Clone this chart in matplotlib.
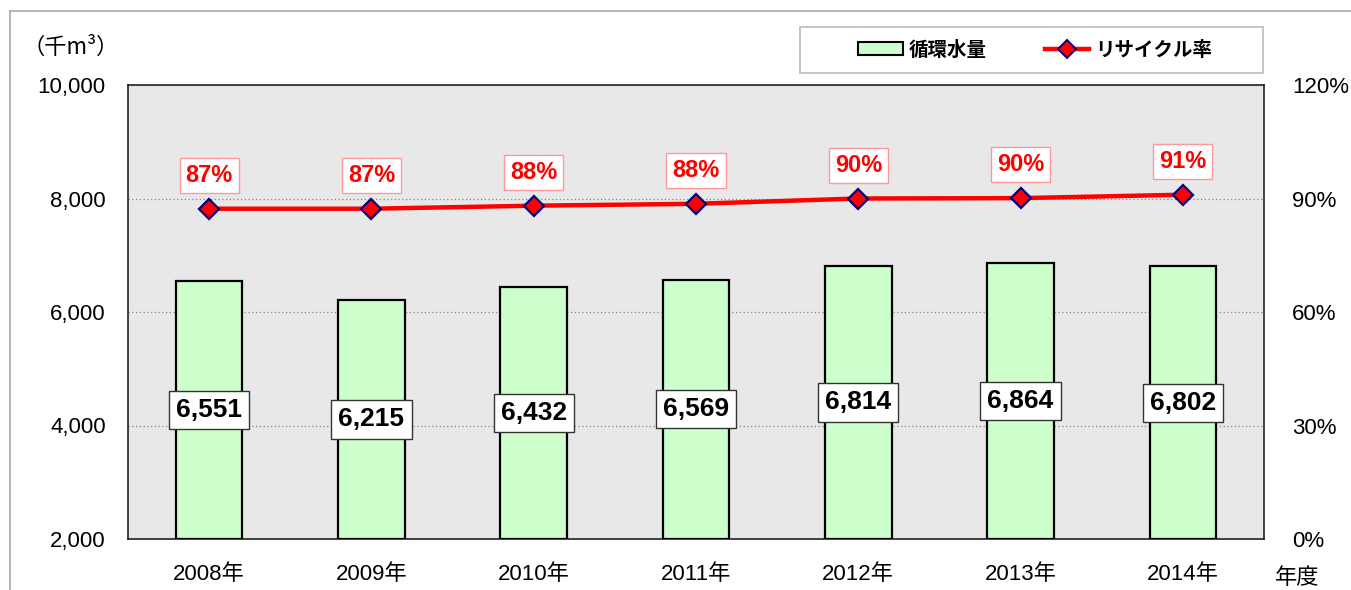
import matplotlib
matplotlib.use("Agg")
import matplotlib.pyplot as plt
from matplotlib.patches import Rectangle, Patch
from matplotlib.lines import Line2D
from matplotlib import font_manager

years = ["2008年", "2009年", "2010年", "2011年", "2012年", "2013年", "2014年"]
water = [6551, 6215, 6432, 6569, 6814, 6864, 6802]
rate = [87.3, 87.3, 88.1, 88.6, 90.0, 90.1, 91.0]
rate_labels = ["87%", "87%", "88%", "88%", "90%", "90%", "91%"]
left_ticks = [2000, 4000, 6000, 8000, 10000]
right_ticks = [0, 30, 60, 90, 120]

FAM = ["Liberation Sans", "Noto Sans CJK JP", "DejaVu Sans"]
JFAM = ["Noto Sans CJK JP", "DejaVu Sans"]
names = {f.name for f in font_manager.fontManager.ttflist}
NARROW = ["Liberation Sans Narrow"] if "Liberation Sans Narrow" in names else ["Liberation Sans"]
nsize = 22 if NARROW[0] == "Liberation Sans Narrow" else 19
psize = 20 if NARROW[0] == "Liberation Sans Narrow" else 17
plt.rcParams["font.family"] = FAM

fig = plt.figure(figsize=(13.51, 5.90), dpi=100)
W, H = 1351, 590

# outer frame lines (top and left)
fig.add_artist(Line2D([10 / W, 1], [1 - 11 / H, 1 - 11 / H], color="#AAAAAA", lw=1.2))
fig.add_artist(Line2D([10 / W, 10 / W], [0, 1 - 11 / H], color="#AAAAAA", lw=1.2))

ax = fig.add_axes([128 / W, 1 - 539 / H, (1264 - 128) / W, (539 - 85) / H])
ax.set_facecolor("#E8E8E8")
x = list(range(len(years)))
ax.bar(x, [v - 2000 for v in water], bottom=2000, width=0.41, color="#CCFFCC",
       edgecolor="black", linewidth=1.6, zorder=3)
ax.set_xlim(-0.5, len(years) - 0.5)
ax.set_ylim(2000, 10000)
ax.set_yticks(left_ticks)
ax.set_yticklabels([f"{t:,}" for t in left_ticks], fontsize=16)
ax.set_xticks(x)
ax.set_xticklabels(years, fontsize=16)
ax.tick_params(axis="y", length=0, pad=16)
ax.tick_params(axis="x", length=0, pad=18)
ax.grid(axis="y", linestyle=(0, (1, 2)), color="#888888", linewidth=0.9, zorder=1)
for s in ax.spines.values():
    s.set_color("#222222")
    s.set_linewidth(1.2)

for xi, v in zip(x, water):
    ax.text(xi, (2000 + v) / 2, f"{v:,}", ha="center", va="center", fontsize=nsize,
            fontweight="bold", family=NARROW, color="black", zorder=5,
            bbox=dict(boxstyle="square,pad=0.27", fc="white", ec="#333333", lw=1.0))

ax2 = ax.twinx()
ax2.set_ylim(0, 120)
ax2.set_yticks(right_ticks)
ax2.set_yticklabels([f"{t}%" for t in right_ticks], fontsize=16)
ax2.tick_params(axis="y", length=0, pad=20)
for s in ax2.spines.values():
    s.set_visible(False)
ax2.plot(x, rate, color="#FF0000", lw=3.2, marker="D", markersize=10,
         markerfacecolor="#FF0000", markeredgecolor="#000080", markeredgewidth=1.6,
         zorder=4)
for xi, r, lab in zip(x, rate, rate_labels):
    ax2.annotate(lab, (xi, r), xytext=(0, 24), textcoords="offset points",
                 ha="center", va="center", fontsize=psize, fontweight="bold",
                 family=NARROW, color="#FF0000",
                 bbox=dict(boxstyle="square,pad=0.25", fc="white", ec="#FF9999", lw=1.0))

# unit labels
fig.text(22 / W, 1 - 47 / H, "（千m³）", fontsize=16, family=JFAM, ha="left", va="center")
fig.text(1297 / W, 1 - 577 / H, "年度", fontsize=16, family=JFAM, ha="center", va="center")

# legend
fig.add_artist(Rectangle((800 / W, 1 - 73 / H), 463 / W, 46 / H, transform=fig.transFigure,
                         fc="white", ec="#BBBBBB", lw=1.2))
handles = [Patch(fc="#CCFFCC", ec="black", lw=1.5),
           Line2D([], [], color="#FF0000", lw=3.2, marker="D", markersize=9,
                  markerfacecolor="#FF0000", markeredgecolor="#000080", markeredgewidth=1.4)]
leg = fig.legend(handles, ["循環水量", "リサイクル率"], loc="center",
                 bbox_to_anchor=(1035 / W, 1 - 50 / H), ncol=2, frameon=False,
                 prop=dict(family=JFAM, weight="bold", size=14),
                 handlelength=2.3, handleheight=0.6, handletextpad=0.3, columnspacing=3.0)

fig.savefig("out.png", dpi=100)
